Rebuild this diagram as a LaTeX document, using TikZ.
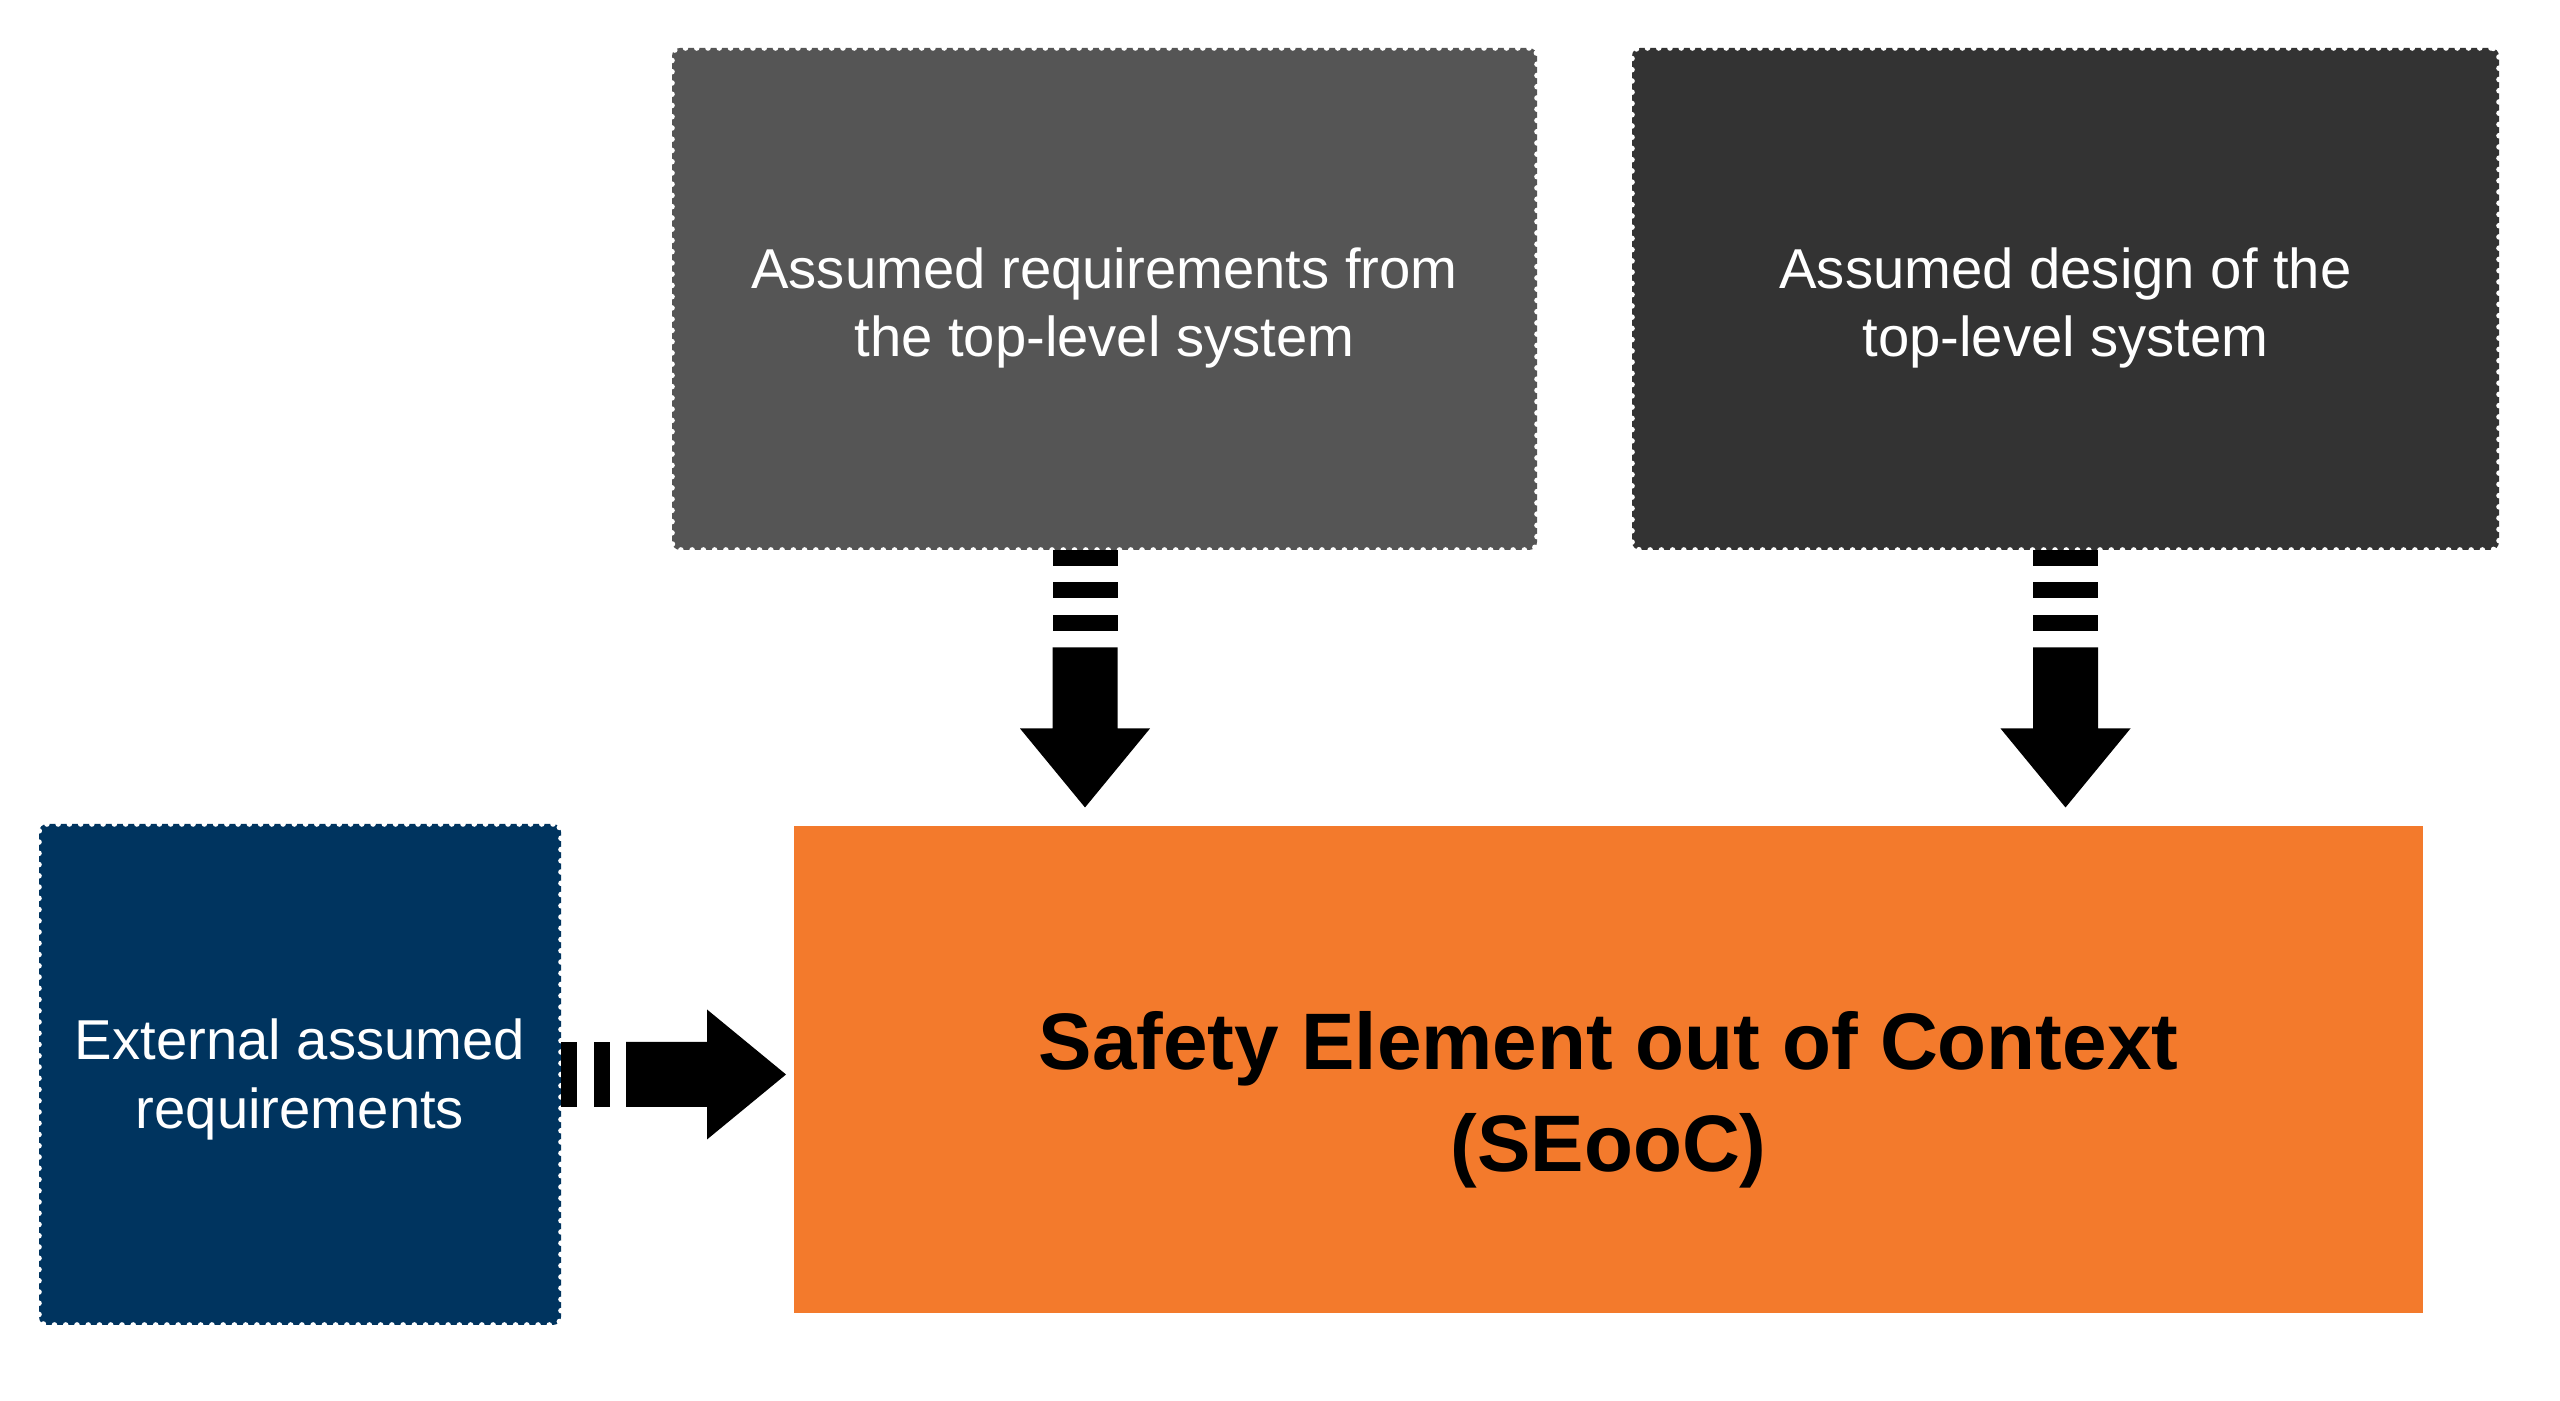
\documentclass[tikz,border=0pt]{standalone}
\usepackage{fontspec}
\setmainfont{Liberation Sans}
\usepackage{xcolor}
\definecolor{boxgray}{HTML}{555555}
\definecolor{boxdark}{HTML}{333333}
\definecolor{boxblue}{HTML}{00345F}
\definecolor{seoocorange}{HTML}{F37A2C}
\tikzset{
assumed/.style = {
            draw=white, line width=1.6pt,
            dash pattern=on 0pt off 3.2pt, line cap=round,
            rounded corners=0.08cm,
            text=white, align=center,
            inner sep=0pt, outer sep=0pt,
            font=\fontsize{16}{19.4}\selectfont},
element/.style = {
            fill=seoocorange, align=center,
            inner sep=0pt, outer sep=0pt,
            font=\bfseries\fontsize{22.8}{29}\selectfont}
}
\usetikzlibrary{calc}

\begin{document}
\begin{tikzpicture}
  \useasboundingbox (0,0) rectangle (25.6,14.01);
  \def\txt#1#2{\raisebox{#1}[0pt][0pt]{\begin{tabular}{@{}c@{}}#2\end{tabular}}}
  \def\flow#1#2#3{%
    \begin{scope}[shift={(#1)},rotate=#2]
      \foreach \i in {1,...,#3}{
        \fill (\i*0.325-0.325,-0.325) rectangle ++(0.16,0.65);
      }
      \fill (#3*0.325,-0.325) -- ++(0.81,0) -- ++(0,-0.325) -- ++(0.79,0.65)
        -- ++(-0.79,0.65) -- ++(0,-0.325) -- ++(-0.81,0) -- cycle;
    \end{scope}
  }

  \node[assumed, fill=boxgray, minimum width=8.65cm, minimum height=5.02cm]
    (toplevelreq) at (11.045,11.02) {\txt{-0.25cm}{Assumed requirements from\\the top-level system}};
  \node[assumed, fill=boxdark, minimum width=8.67cm, minimum height=5.02cm]
    (topleveldesign) at (20.655,11.02) {\txt{-0.25cm}{Assumed design of the\\top-level system}};
  \node[assumed, fill=boxblue, minimum width=5.22cm, minimum height=5.01cm]
    (externalreq) at (3.0,3.265) {\txt{-0.21cm}{External assumed\\requirements}};
  \node[element, minimum width=16.29cm, minimum height=4.87cm]
    (seooc) at (16.085,3.315) {\txt{-0.49cm}{Safety Element out of Context\\(SEooC)}};

  \flow{$(toplevelreq.south)+(-0.195,0)$}{-90}{3}
  \flow{topleveldesign.south}{-90}{3}
  \flow{externalreq.east}{0}{2}

\end{tikzpicture}
\end{document}
